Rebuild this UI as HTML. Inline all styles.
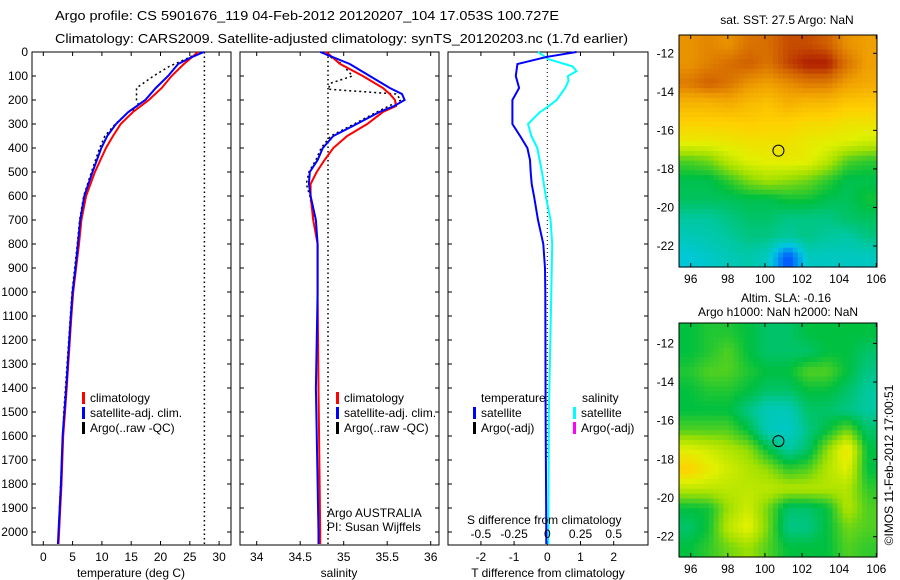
<!DOCTYPE html>
<html><head><meta charset="utf-8"><style>
html,body{margin:0;padding:0;background:#fff}
svg{display:block;font-family:"Liberation Sans",sans-serif}
</style></head><body>
<svg id="c" width="900" height="580" viewBox="0 0 900 580"></svg>
<script>
// ---------- data ----------
const depthsT = [0,25,50,100,150,200,250,300,350,400,500,600,700,800,900,1000,1100,1400,1500,1600,1800,2000,2050];
const tempClim = [26.4,25.2,24,21.9,20.2,18,15.3,13.2,11.9,10.7,8.8,7.3,6.5,6.1,5.6,5.1,4.8,4.0,3.7,3.4,3.1,2.7,2.6];
const tempSat  = [27.4,25,23,21.3,19.2,17.4,14.5,12.4,10.9,9.9,8.4,7.0,6.3,5.9,5.5,5.0,4.7,3.9,3.6,3.3,3.0,2.6,2.5];
const depthsArgoT = [0,30,60,100,150,200,230,250,300,350,400,500,600,700,800,1000,1500,2000];
const tempArgo = [27,24.2,21.5,18.8,15.9,15.9,16.4,14.5,12.3,10.5,9.6,8.2,6.9,6.2,5.8,4.9,3.5,2.6];
const sstValue = 27.5;

const depthsS = [0,50,100,150,175,200,225,250,300,350,400,450,500,550,600,700,800,1000,1400,2000,2050];
const salClim = [34.80,34.96,35.22,35.45,35.53,35.59,35.60,35.45,35.27,35.04,34.88,34.78,34.69,34.62,34.62,34.65,34.70,34.70,34.71,34.73,34.73];
const salSat  = [34.73,35.07,35.30,35.53,35.67,35.70,35.58,35.41,35.15,34.88,34.76,34.70,34.61,34.60,34.62,34.68,34.70,34.70,34.68,34.71,34.71];
const depthsArgoS = [0,50,100,130,155,175,200,250,300,350,400,450,500,550,600,700];
const salArgo = [34.75,34.98,35.10,34.85,34.82,35.60,35.66,35.38,35.12,34.85,34.74,34.68,34.60,34.57,34.61,34.66];
const surfSal = 34.82;

const depthsD = [0,20,30,50,100,150,200,250,300,350,400,450,500,550,600,700,800,900,1000,1500,2000,2050];
const tDiff = [0.88,0.0,-0.3,-0.9,-0.95,-0.85,-1.05,-1.05,-1.05,-0.82,-0.6,-0.52,-0.5,-0.47,-0.4,-0.28,-0.12,-0.07,-0.06,-0.05,-0.03,-0.03];
const depthsSD = [0,30,60,80,100,120,150,200,230,250,300,350,400,500,600,700,800,1000,1500,2000,2050];
const sDiff = [-0.07,0.01,0.19,0.22,0.155,0.16,0.135,0.07,0,-0.055,-0.145,-0.12,-0.075,-0.04,-0.012,0.025,0.037,0.03,0.012,0.008,0.008];

const sstGrid = [
[.82,.84,.82,.87,.88,.92,.92,.9,.82,.8],
[.82,.85,.88,.9,.87,.93,.97,.97,.87,.8],
[.86,.9,.87,.82,.8,.83,.86,.86,.8,.78],
[.76,.76,.78,.75,.73,.77,.75,.75,.72,.72],
[.7,.7,.7,.71,.7,.7,.68,.68,.66,.66],
[.64,.64,.65,.66,.66,.66,.64,.63,.62,.6],
[.5,.52,.58,.62,.63,.64,.63,.58,.5,.48],
[.44,.44,.48,.53,.56,.54,.52,.48,.44,.44],
[.43,.43,.43,.44,.44,.46,.46,.44,.43,.46],
[.38,.38,.4,.42,.42,.4,.4,.4,.42,.43],
[.35,.36,.38,.4,.4,.38,.4,.38,.37,.4],
[.31,.33,.35,.37,.34,.12,.34,.34,.34,.34]];
const slaGrid = [
[.45,.47,.47,.45,.42,.42,.45,.45,.45,.45],
[.45,.47,.5,.45,.42,.42,.42,.45,.45,.42],
[.47,.5,.5,.47,.45,.45,.5,.5,.45,.4],
[.45,.47,.47,.45,.42,.42,.45,.45,.42,.38],
[.45,.45,.45,.4,.35,.35,.42,.42,.4,.38],
[.5,.5,.5,.45,.35,.33,.4,.45,.52,.42],
[.62,.6,.57,.54,.45,.38,.42,.54,.66,.45],
[.7,.64,.6,.57,.54,.48,.5,.57,.62,.45],
[.58,.58,.58,.58,.58,.57,.57,.57,.57,.48],
[.45,.46,.55,.6,.52,.42,.42,.45,.57,.5],
[.42,.46,.58,.63,.52,.4,.4,.45,.52,.5],
[.45,.48,.52,.55,.5,.45,.45,.45,.5,.48]];
const argoLon = 100.727, argoLat = -17.053;

// ---------- helpers ----------
const NS="http://www.w3.org/2000/svg";
const svg=document.getElementById('c');
function mk(tag,attrs,parent){const e=document.createElementNS(NS,tag);for(const k in attrs)e.setAttribute(k,attrs[k]);(parent||svg).appendChild(e);return e;}
function txt(s,x,y,opt,parent){const e=mk('text',Object.assign({x:x,y:y,'font-size':12,fill:'#000'},opt||{}),parent);e.textContent=s;return e;}
const Y0=52, YS=0.24, YB=545;
const yD=d=>Y0+d*YS;

function panel(name,x0,x1,xf,ticks,fmt,ylabels){
  const g=mk('g',{});
  
  
  mk('rect',{x:x0,y:Y0,width:x1-x0,height:YB-Y0,fill:'#fff',stroke:'#000','stroke-width':1},g);
  for(let d=0;d<=2000;d+=100){const y=yD(d);
    mk('line',{x1:x0,x2:x0+4,y1:y,y2:y,stroke:'#000'},g);
    mk('line',{x1:x1-4,x2:x1,y1:y,y2:y,stroke:'#000'},g);
    if(ylabels){const t=txt(String(d),28,y+4,{'text-anchor':'end'},g);
      }
  }
  ticks.forEach(v=>{const x=xf(v);
    mk('line',{x1:x,x2:x,y1:YB,y2:YB-4,stroke:'#000'},g);
    mk('line',{x1:x,x2:x,y1:Y0,y2:Y0+4,stroke:'#000'},g);
    if(fmt){const t=txt(fmt(v),x,YB+16,{'text-anchor':'middle'},g);
      }
  });
  return g;
}
function line(g,xs,ds,xf,color,w,dash,name){
  const pts=xs.map((v,i)=>xf(v).toFixed(1)+','+yD(ds[i]).toFixed(1)).join(' ');
  const p=mk('polyline',{points:pts,fill:'none',stroke:color,'stroke-width':w},g);
  if(dash)p.setAttribute('stroke-dasharray',dash);
  
  
  return p;
}
function legend(g,items,x,y){
  items.forEach((it,i)=>{const yy=y+i*15;
    mk('rect',{x:x,y:yy-10,width:3,height:12,fill:it[1]},g);
    const t=txt(it[0],x+8,yy,{},g);
    
  });
}

// titles
let t1=txt('Argo profile: CS 5901676_119 04-Feb-2012 20120207_104 17.053S 100.727E',55,20,{'font-size':13,textLength:504,lengthAdjust:'spacingAndGlyphs'});

let t2=txt('Climatology: CARS2009. Satellite-adjusted climatology: synTS_20120203.nc (1.7d earlier)',55,43,{'font-size':13,textLength:573,lengthAdjust:'spacingAndGlyphs'});


// ---- panel 1 temperature
const xT=v=>43.3+v*5.86;
const p1=panel('temperature-panel',32,231,xT,[0,5,10,15,20,25,30],v=>String(v),true);
line(p1,[sstValue,sstValue],[0,2050],xT,'#000',1.5,'1.5,3','sst-marker-line');
line(p1,tempArgo,depthsArgoT,xT,'#000',1.5,'2,3','argo-temp-line');
line(p1,tempClim,depthsT,xT,'#f00',2,null,'climatology-temp-line');
line(p1,tempSat,depthsT,xT,'#00f',2,null,'satellite-temp-line');
legend(p1,[['climatology','#f00'],['satellite-adj. clim.','#00f'],['Argo(..raw -QC)','#000']],82,402);
let lx=txt('temperature (deg C)',131,577,{'text-anchor':'middle'},p1);


// ---- panel 2 salinity
const xS=v=>256.7+(v-34)*87;
const p2=panel('salinity-panel',240,439,xS,[34,34.5,35,35.5,36],v=>String(v),false);
line(p2,[surfSal,surfSal],[0,2050],xS,'#000',1.5,'1.5,3','surface-salinity-marker');
line(p2,salArgo,depthsArgoS,xS,'#000',1.5,'2,3','argo-salinity-line');
line(p2,salClim,depthsS,xS,'#f00',2,null,'climatology-salinity-line');
line(p2,salSat,depthsS,xS,'#00f',2,null,'satellite-salinity-line');
legend(p2,[['climatology','#f00'],['satellite-adj. clim.','#00f'],['Argo(..raw -QC)','#000']],336,402);
txt('Argo AUSTRALIA',327,517,{},p2);
txt('PI: Susan Wijffels',327,531,{},p2);
lx=txt('salinity',339,577,{'text-anchor':'middle'},p2);


// ---- panel 3 differences
const xTD=v=>547.3+v*33.2;
const xSD=v=>547.3+v*4*33.2;
const p3=panel('difference-panel',448,648,xTD,[-2,-1,0,1,2],v=>String(v),false);
line(p3,[0,0],[0,1700],xTD,'#000',1,'1,3','zero-reference-line');
line(p3,sDiff,depthsSD,xSD,'#0ff',2,null,'salinity-difference-line');
line(p3,tDiff,depthsD,xTD,'#00f',2,null,'temperature-difference-line');
txt('temperature',481,402,{},p3);
legend(p3,[['satellite','#00f'],['Argo(-adj)','#000']],473,417);
txt('salinity',582,402,{},p3);
legend(p3,[['satellite','#0ff'],['Argo(-adj)','#f0f']],573,417);
txt('S difference from climatology',467,524,{},p3);
[-0.5,-0.25,0,0.25,0.5].forEach(v=>{const t=txt(String(v),xSD(v),538,{'text-anchor':'middle'},p3);
  });
lx=txt('T difference from climatology',548,577,{'text-anchor':'middle'},p3);


// ---- maps
const cstops=[[0,[0,0,139]],[.15,[0,96,255]],[.3,[0,200,224]],[.38,[0,200,160]],[.45,[0,192,64]],[.55,[160,224,0]],[.62,[224,240,0]],[.7,[255,208,0]],[.8,[240,160,0]],[.9,[208,96,0]],[1,[160,0,0]]];
function cmap(v){for(let i=1;i<cstops.length;i++){if(v<=cstops[i][0]){const a=cstops[i-1],b=cstops[i],f=(v-a[0])/(b[0]-a[0]);
  return 'rgb('+a[1].map((c,k)=>Math.round(c+(b[1][k]-c)*f)).join(',')+')';}}return 'rgb(160,0,0)';}
function map(name,grid,x0,x1,yTop,yBot,yM12,yPerDeg){
  const g=mk('g',{});
  
  
  const xL=lon=>690.7+(lon-96)*18.56, yL=lat=>yM12+(-12-lat)*yPerDeg;
  const R=grid.length,C=grid[0].length, sub=4;
  const nx=C*sub, ny=R*sub;
  for(let j=0;j<ny;j++)for(let i=0;i<nx;i++){
    const fx=(i+0.5)/sub-0.5, fy=(j+0.5)/sub-0.5;
    const i0=Math.max(0,Math.min(C-1,Math.floor(fx))),i1=Math.min(C-1,i0+1),j0=Math.max(0,Math.min(R-1,Math.floor(fy))),j1=Math.min(R-1,j0+1);
    const ax=Math.max(0,Math.min(1,fx-i0)),ay=Math.max(0,Math.min(1,fy-j0));
    const v=(grid[j0][i0]*(1-ax)+grid[j0][i1]*ax)*(1-ay)+(grid[j1][i0]*(1-ax)+grid[j1][i1]*ax)*ay;
    const cx0=x0+(x1-x0)*i/nx, cy0=yTop+(yBot-yTop)*j/ny;
    mk('rect',{x:cx0.toFixed(1),y:cy0.toFixed(1),width:((x1-x0)/nx+0.6).toFixed(1),height:((yBot-yTop)/ny+0.6).toFixed(1),fill:cmap(v)},g);
  }
  mk('rect',{x:x0,y:yTop,width:x1-x0,height:yBot-yTop,fill:'none',stroke:'#000'},g);
  [-12,-14,-16,-18,-20,-22].forEach(l=>{const y=yL(l);
    mk('line',{x1:x1-4,x2:x1,y1:y,y2:y,stroke:'#000'},g);
    const t=txt(String(l),x0-5,y+4,{'text-anchor':'end'},g);
    });
  [96,98,100,102,104,106].forEach(l=>{const x=xL(l);
    mk('line',{x1:x,x2:x,y1:yTop,y2:yTop+4,stroke:'#000'},g);
    mk('line',{x1:x,x2:x,y1:yBot,y2:yBot-4,stroke:'#000'},g);
    const t=txt(String(l),x,yBot+16,{'text-anchor':'middle'},g);
    });
  const c=mk('circle',{cx:xL(argoLon),cy:yL(argoLat),r:5.5,fill:'none',stroke:'#000'},g);
  
  return g;
}
const m1=map('sst-map',sstGrid,679,877,35,267,53.3,19.27);
txt('sat. SST: 27.5 Argo: NaN',787,24,{'text-anchor':'middle'},m1);
const m2=map('sla-map',slaGrid,679,877,323,557,343.4,19.33);
txt('Altim. SLA: -0.16',786,302,{'text-anchor':'middle'},m2);
txt('Argo h1000: NaN h2000: NaN',778,316,{'text-anchor':'middle'},m2);
const cr=txt('©IMOS 11-Feb-2012 17:00:51',0,0,{'text-anchor':'middle',transform:'translate(893,465) rotate(-90)'});

</script>
</body></html>
